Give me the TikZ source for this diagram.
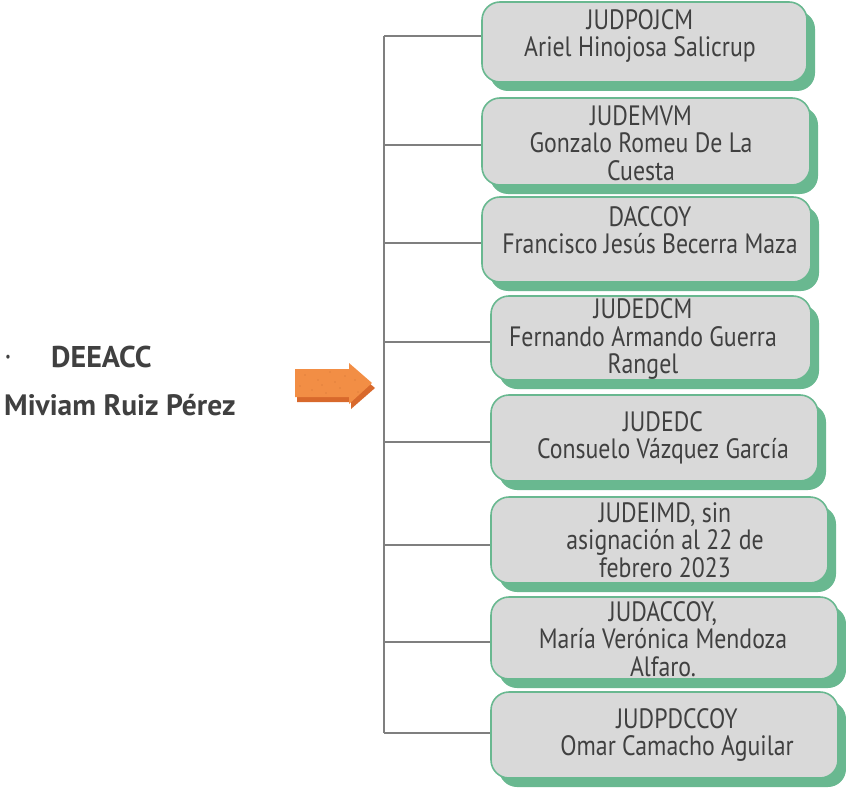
\documentclass[tikz,border=0pt]{standalone}
\usepackage{fontspec}
\setmainfont[FakeStretch=0.85]{PT Sans}
\newfontfamily\leftfont{PT Sans}
\usetikzlibrary{shadows}
\definecolor{boxgray}{HTML}{D9D9D9}
\definecolor{boxgreen}{HTML}{69B890}
\definecolor{txtgray}{HTML}{404040}
\definecolor{linegray}{HTML}{7F7F7F}
\definecolor{arrlight}{HTML}{F28E45}
\definecolor{arrdark}{HTML}{D8692C}
\tikzset{
  box/.style={draw=boxgreen, line width=1.6pt, fill=boxgray, rounded corners=18pt,
    drop shadow={shadow xshift=8pt, shadow yshift=-9pt, fill=boxgreen, opacity=1}},
  boxtext/.style={text=txtgray, align=center, inner sep=0pt,
    font=\fontsize{28}{27.5}\selectfont},
  conn/.style={draw=linegray, line width=1.4pt},
  lefttext/.style={text=txtgray, inner sep=0pt, anchor=west}
}
\begin{document}
\begin{tikzpicture}[x=1pt,y=-1pt]
\useasboundingbox (0,0) rectangle (846,789);
% boxes
\node[box, minimum width=325pt, minimum height=80pt] (b1) at (644.5,42) {};
\node[box, minimum width=328pt, minimum height=87pt] (b2) at (646,141.5) {};
\node[box, minimum width=329pt, minimum height=85pt] (b3) at (646.5,239.5) {};
\node[box, minimum width=320pt, minimum height=84pt] (b4) at (651,338) {};
\node[box, minimum width=327pt, minimum height=86pt] (b5) at (654.5,438) {};
\node[box, minimum width=337pt, minimum height=86pt] (b6) at (659.5,540) {};
\node[box, minimum width=347pt, minimum height=82pt] (b7) at (664.5,638) {};
\node[box, minimum width=347pt, minimum height=86pt] (b8) at (664.5,735) {};
% texts
\node[boxtext] (t1) at (640,36) {JUDPOJCM\\Ariel Hinojosa Salicrup};
\node[boxtext] (t2) at (641,143) {JUDEMVM\\Gonzalo Romeu De La\\Cuesta};
\node[boxtext] (t3) at (650,230) {DACCOY\\Francisco Jesús Becerra Maza};
\node[boxtext] (t4) at (643,339) {JUDEDCM\\Fernando Armando Guerra\\Rangel};
\node[boxtext] (t5) at (663,438) {JUDEDC\\Consuelo Vázquez García};
\node[boxtext] (t6) at (665,540) {JUDEIMD, sin\\asignación al 22 de\\febrero 2023};
\node[boxtext] (t7) at (663,639) {JUDACCOY,\\María Verónica Mendoza\\Alfaro.};
\node[boxtext] (t8) at (677,735) {JUDPDCCOY\\Omar Camacho Aguilar};
% trunk and connectors
\coordinate (j1) at (384,36);
\coordinate (j2) at (384,145);
\coordinate (j3) at (384,243);
\coordinate (j4) at (384,342);
\coordinate (j5) at (384,442);
\coordinate (j6) at (384,545);
\coordinate (j7) at (384,642);
\coordinate (j8) at (384,733);
\draw[conn] (j1) -- (j8);
\foreach \i in {1,...,8}{
  \draw[conn] (j\i) -- (b\i.west |- j\i);
}
% left text
\node[text=txtgray, inner sep=0pt] (bul) at (8,358) {\fontsize{14}{14}\selectfont\textbullet};
\node[lefttext] (dee) at (51,357) {\leftfont\fontsize{30}{32}\selectfont\bfseries DEEACC};
\node[lefttext] (mir) at (4,405) {\leftfont\fontsize{29.5}{32}\selectfont\bfseries Miviam Ruiz Pérez};
% arrow
\fill[arrdark] (297,374) -- (351,374) -- (351,368) -- (375,388) -- (351,409) -- (351,402) -- (297,402) -- cycle;
\fill[arrlight] (295,369) -- (349,369) -- (349,363) -- (372,383) -- (349,404) -- (349,397) -- (295,397) -- cycle;
\foreach \p in {(305,375),(318,380),(330,372),(340,388),(312,390),(326,393),(355,380),(345,376),(300,386),(335,382),(358,392),(322,385)}{
  \fill[arrdark!80!black, opacity=0.5] \p circle (0.6pt);
}
\end{tikzpicture}
\end{document}
